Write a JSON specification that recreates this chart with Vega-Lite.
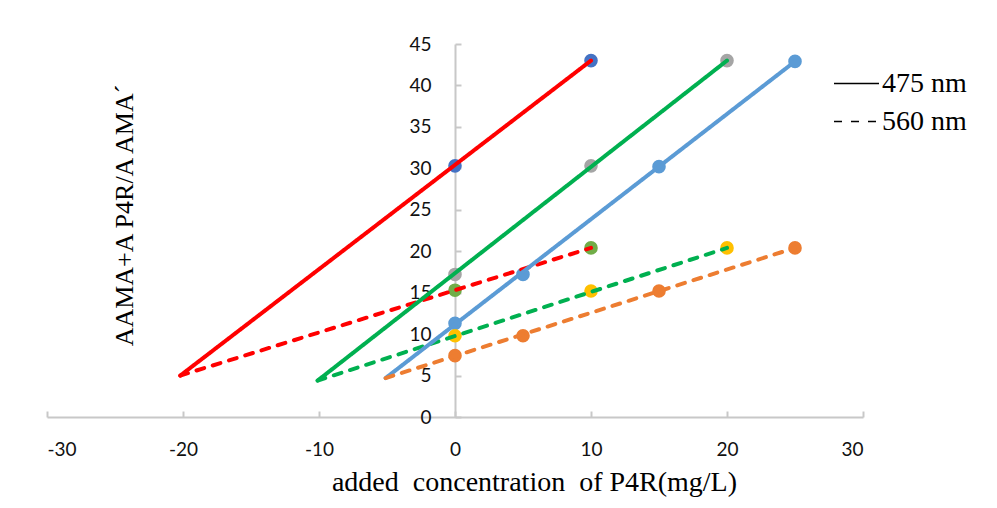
{
  "$schema": "https://vega.github.io/schema/vega-lite/v6.json",
  "autosize": {"type": "none"},
  "width": 816,
  "height": 373,
  "padding": {"left": 47, "top": 44, "right": 134, "bottom": 91},
  "background": "white",
  "config": {"view": {"stroke": null}},
  "datasets": {
    "points": [
      {"x": 0, "y": 30.3, "grp": "p1"},
      {"x": 10, "y": 43.0, "grp": "p1"},
      {"x": 0, "y": 17.2, "grp": "p2"},
      {"x": 10, "y": 30.3, "grp": "p2"},
      {"x": 20, "y": 43.0, "grp": "p2"},
      {"x": 0, "y": 11.3, "grp": "p3"},
      {"x": 5, "y": 17.2, "grp": "p3"},
      {"x": 15, "y": 30.2, "grp": "p3"},
      {"x": 25, "y": 42.9, "grp": "p3"},
      {"x": 0, "y": 15.3, "grp": "p4"},
      {"x": 10, "y": 20.4, "grp": "p4"},
      {"x": 0, "y": 9.8, "grp": "p5"},
      {"x": 10, "y": 15.2, "grp": "p5"},
      {"x": 20, "y": 20.4, "grp": "p5"},
      {"x": 0, "y": 7.4, "grp": "p6"},
      {"x": 5, "y": 9.8, "grp": "p6"},
      {"x": 15, "y": 15.2, "grp": "p6"},
      {"x": 25, "y": 20.4, "grp": "p6"}
    ],
    "lines": [
      {"x": -20.2, "y": 5.0, "line": "a475", "wl": "475 nm"},
      {"x": 10, "y": 43.0, "line": "a475", "wl": "475 nm"},
      {"x": -20.2, "y": 5.0, "line": "a560", "wl": "560 nm"},
      {"x": 10, "y": 20.4, "line": "a560", "wl": "560 nm"},
      {"x": -10.1, "y": 4.4, "line": "b475", "wl": "475 nm"},
      {"x": 20, "y": 43.0, "line": "b475", "wl": "475 nm"},
      {"x": -10.1, "y": 4.4, "line": "b560", "wl": "560 nm"},
      {"x": 20, "y": 20.4, "line": "b560", "wl": "560 nm"},
      {"x": -5.1, "y": 4.7, "line": "c475", "wl": "475 nm"},
      {"x": 25, "y": 42.9, "line": "c475", "wl": "475 nm"},
      {"x": -5.1, "y": 4.7, "line": "c560", "wl": "560 nm"},
      {"x": 25, "y": 20.4, "line": "c560", "wl": "560 nm"}
    ]
  },
  "resolve": {"scale": {"color": "independent"}},
  "layer": [
    {
      "data": {"name": "points"},
      "mark": {"type": "circle", "size": 185, "opacity": 1},
      "encoding": {
        "x": {
          "field": "x", "type": "quantitative",
          "scale": {"domain": [-30, 30], "nice": false, "zero": false},
          "axis": {
            "values": [-30, -20, -10, 0, 10, 20, 30],
            "labelExpr": "'' + datum.value",
            "grid": false,
            "domainColor": "#c8c8c8", "domainWidth": 2,
            "tickColor": "#c8c8c8", "tickWidth": 2, "tickSize": -6,
            "labelFont": "Lato", "labelFontSize": 19, "labelColor": "#111111",
            "labelPadding": 29,
            "title": "added\u00a0 concentration\u00a0 of P4R(mg/L)",
            "titleFont": "Liberation Serif", "titleFontSize": 28, "titleFontWeight": "normal",
            "titleColor": "#000000",
            "titleX": 487, "titleY": 73, "titleBaseline": "alphabetic", "titleAlign": "center"
          }
        },
        "y": {
          "field": "y", "type": "quantitative",
          "scale": {"domain": [0, 45], "nice": false},
          "axis": {
            "values": [0, 5, 10, 15, 20, 25, 30, 35, 40, 45],
            "labelExpr": "'' + datum.value",
            "grid": false,
            "offset": -408,
            "domainColor": "#c8c8c8", "domainWidth": 2,
            "tickColor": "#c8c8c8", "tickWidth": 2, "tickSize": -6,
            "labelFont": "Lato", "labelFontSize": 19, "labelColor": "#111111",
            "labelPadding": 30,
            "title": "AAMA+A P4R/A AMA´",
            "titleFont": "Liberation Serif", "titleFontSize": 26, "titleFontWeight": "normal",
            "titleColor": "#000000",
            "titleAngle": -90, "titleX": -331, "titleY": 171,
            "titleAlign": "center", "titleBaseline": "middle"
          }
        },
        "color": {
          "field": "grp", "type": "nominal",
          "scale": {
            "domain": ["p1", "p2", "p3", "p4", "p5", "p6"],
            "range": ["#4472C4", "#A5A5A5", "#5B9BD5", "#70AD47", "#FFC000", "#ED7D31"]
          },
          "legend": null
        }
      }
    },
    {
      "data": {"name": "lines"},
      "mark": {"type": "line", "strokeWidth": 4, "strokeCap": "round"},
      "encoding": {
        "x": {"field": "x", "type": "quantitative"},
        "y": {"field": "y", "type": "quantitative"},
        "color": {
          "field": "line", "type": "nominal",
          "scale": {
            "domain": ["a475", "a560", "b475", "b560", "c475", "c560"],
            "range": ["#FF0000", "#FF0000", "#00B050", "#00B050", "#5B9BD5", "#ED7D31"]
          },
          "legend": null
        },
        "strokeDash": {
          "field": "wl", "type": "nominal",
          "scale": {"domain": ["475 nm", "560 nm"], "range": [[1, 0], [8, 9]]},
          "legend": {
            "title": null,
            "orient": "none",
            "legendX": 786,
            "legendY": 16,
            "padding": 0,
            "symbolType": "stroke",
            "symbolSize": 2025,
            "symbolStrokeColor": "#000000",
            "symbolStrokeWidth": 1.5,
            "labelFont": "Liberation Serif",
            "labelFontSize": 28,
            "labelColor": "#000000",
            "labelOffset": 2,
            "rowPadding": 0
          }
        }
      }
    }
  ]
}
